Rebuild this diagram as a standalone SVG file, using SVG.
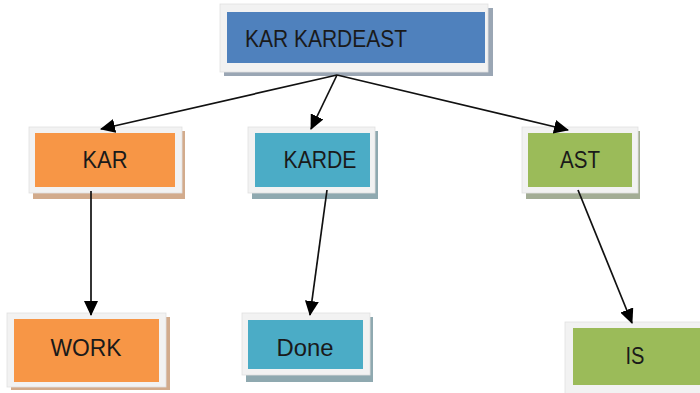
<svg xmlns="http://www.w3.org/2000/svg" width="700" height="393" viewBox="0 0 700 393">
  <style>
    .frame { fill: #f2f2f2; stroke: #e0e0e0; stroke-width: 0.8; }
    .label { font-family: "Liberation Sans", Arial, sans-serif; font-size: 23px; fill: #1a1a1a; text-anchor: middle; }
    .edge { stroke: #111; stroke-width: 1.7; fill: none; marker-end: url(#arrow); }
    .blue { fill: #4f81bd; }
    .orange { fill: #f79646; }
    .teal { fill: #4bacc6; }
    .green { fill: #9bbb59; }
  </style>
  <defs>
    <marker id="arrow" viewBox="0 0 15 14" refX="14" refY="7" markerWidth="15" markerHeight="14" markerUnits="userSpaceOnUse" orient="auto">
      <path d="M0,0 L15,7 L0,14 Z" fill="#000"/>
    </marker>
  </defs>
  <rect width="700" height="393" fill="#ffffff"/>

  <!-- root node -->
  <g id="node-root">
    <rect x="224" y="8" width="269" height="68" fill="#9aa6b4"/>
    <rect class="frame" x="220" y="4" width="268" height="68"/>
    <rect class="blue" x="227" y="12" width="258" height="51"/>
    <text class="label" x="245" y="47" style="text-anchor:start" textLength="162" lengthAdjust="spacingAndGlyphs">KAR KARDEAST</text>
  </g>

  <!-- second level -->
  <g id="node-kar">
    <rect x="33" y="131" width="152" height="68" fill="#d2ab8c"/>
    <rect class="frame" x="29" y="127" width="153" height="66"/>
    <rect class="orange" x="35" y="133" width="140" height="54"/>
    <text class="label" x="105" y="168" textLength="45" lengthAdjust="spacingAndGlyphs">KAR</text>
  </g>
  <g id="node-karde">
    <rect x="252" y="131" width="126" height="68" fill="#8fa9b0"/>
    <rect class="frame" x="248" y="127" width="127" height="66"/>
    <rect class="teal" x="255" y="133" width="115" height="54"/>
    <text class="label" x="320" y="168" textLength="73" lengthAdjust="spacingAndGlyphs">KARDE</text>
  </g>
  <g id="node-ast">
    <rect x="526" y="131" width="114" height="68" fill="#a3ad95"/>
    <rect class="frame" x="522" y="127" width="116" height="66"/>
    <rect class="green" x="528" y="133" width="104" height="54"/>
    <text class="label" x="580" y="168" textLength="40" lengthAdjust="spacingAndGlyphs">AST</text>
  </g>

  <!-- third level -->
  <g id="node-work">
    <rect x="11" y="317" width="159" height="73" fill="#d2ab8c"/>
    <rect class="frame" x="7" y="313" width="159" height="74"/>
    <rect class="orange" x="14" y="319" width="145" height="63"/>
    <text class="label" x="86" y="356" textLength="71" lengthAdjust="spacingAndGlyphs">WORK</text>
  </g>
  <g id="node-done">
    <rect x="246" y="317" width="127" height="65" fill="#8fa9b0"/>
    <rect class="frame" x="242" y="313" width="128" height="62"/>
    <rect class="teal" x="248" y="320" width="115" height="49"/>
    <text class="label" x="305" y="356" textLength="57" lengthAdjust="spacingAndGlyphs">Done</text>
  </g>
  <g id="node-is">
    <rect class="frame" x="565" y="322" width="140" height="72"/>
    <rect class="green" x="573" y="328" width="130" height="57"/>
    <text class="label" x="635" y="364" textLength="19" lengthAdjust="spacingAndGlyphs">IS</text>
  </g>

  <!-- connectors -->
  <g id="connectors">
    <line class="edge" x1="337" y1="75" x2="101" y2="129"/>
    <line class="edge" x1="337" y1="75" x2="311" y2="129"/>
    <line class="edge" x1="337" y1="75" x2="568" y2="130"/>
    <line class="edge" x1="91" y1="191" x2="91" y2="315"/>
    <line class="edge" x1="327" y1="190" x2="310" y2="315"/>
    <line class="edge" x1="578" y1="190" x2="632" y2="323"/>
  </g>
</svg>
